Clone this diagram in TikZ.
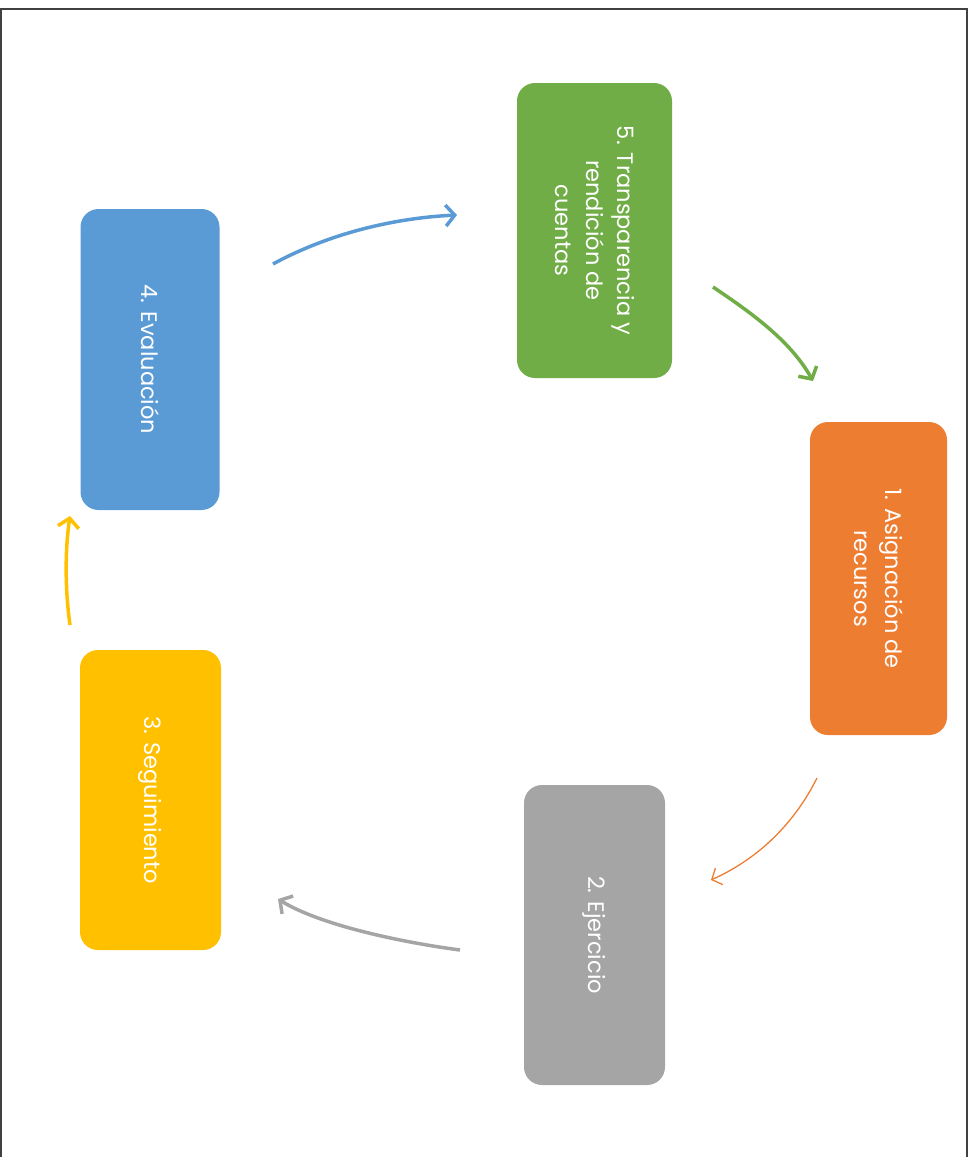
\documentclass[tikz,border=0pt]{standalone}
\usepackage{fontspec}
\setmainfont{Poppins}
\usetikzlibrary{arrows.meta}
\definecolor{cgreen}{HTML}{70AD47}
\definecolor{cblue}{HTML}{5B9BD5}
\definecolor{corange}{HTML}{ED7D31}
\definecolor{cgray}{HTML}{A5A5A5}
\definecolor{cyellow}{HTML}{FFC000}
\definecolor{frame}{HTML}{404040}
\tikzset{
  stagebox/.style={rectangle, rounded corners=18pt, rotate=-90, align=center,
    text=white, inner sep=0pt, font=\fontsize{22.5}{31}\selectfont},
  flow/.style={line width=3.5pt, -{Straight Barb[length=9pt,width=21pt]}},
}
\begin{document}
\begin{tikzpicture}[x=1pt,y=-1pt]
\useasboundingbox (0,0) rectangle (972,1157);
\draw[frame, line width=2pt] (1,9) rectangle (967,1170);

\node[stagebox, fill=cgreen, minimum width=295pt, minimum height=155pt] (s5) at (594.5,230.5)
  {5. Transparencia y\\rendición de\\cuentas};
\node[stagebox, fill=cblue, minimum width=301pt, minimum height=139pt] (s4) at (150,359.5)
  {4. Evaluación};
\node[stagebox, fill=corange, minimum width=313pt, minimum height=137pt] (s1) at (878.5,578.5)
  {1. Asignación de\\recursos};
\node[stagebox, fill=cgray, minimum width=300pt, minimum height=141pt] (s2) at (594.5,935)
  {2. Ejercicio};
\node[stagebox, fill=cyellow, minimum width=300pt, minimum height=141pt] (s3) at (150.5,800)
  {3. Seguimiento};

\coordinate (b1) at (273,264);  \coordinate (b2) at (457,215);
\coordinate (g1) at (713,287);  \coordinate (g2) at (813,381);
\coordinate (o1) at (817,778);  \coordinate (o2) at (711,880);
\coordinate (r1) at (460,950);  \coordinate (r2) at (278,899);
\coordinate (y1) at (70,625);   \coordinate (y2) at (70,516);

\draw[flow, cblue] (b1) .. controls (330,233) and (395,218) .. (b2);
\draw[flow, cgreen] (g1) .. controls (750,312) and (790,340) .. (g2);
\draw[corange, line width=1.3pt, -{Straight Barb[length=8pt,width=18pt]}]
  (o1) .. controls (795,822) and (760,858) .. (o2);
\draw[flow, cgray] (r1) .. controls (400,942) and (320,925) .. (r2);
\draw[flow, cyellow] (y1) .. controls (65,590) and (65,550) .. (y2);
\end{tikzpicture}
\end{document}
